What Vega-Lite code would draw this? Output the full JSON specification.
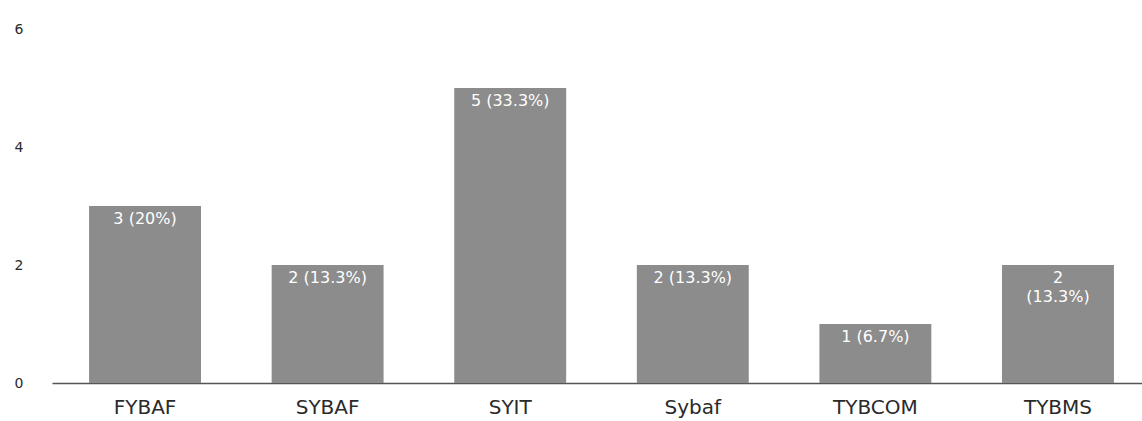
{
  "$schema": "https://vega.github.io/schema/vega-lite/v6.json",
  "width": 1090,
  "height": 354,
  "autosize": "none",
  "padding": {"left": 52, "top": 29, "right": 0, "bottom": 38},
  "background": "white",
  "config": {"view": {"stroke": null}, "font": "DejaVu Sans"},
  "data": {"values": [
    {"group": "FYBAF", "count": 3, "label": "3 (20%)"},
    {"group": "SYBAF", "count": 2, "label": "2 (13.3%)"},
    {"group": "SYIT", "count": 5, "label": "5 (33.3%)"},
    {"group": "Sybaf", "count": 2, "label": "2 (13.3%)"},
    {"group": "TYBCOM", "count": 1, "label": "1 (6.7%)"},
    {"group": "TYBMS", "count": 2, "label": "2\n(13.3%)"}
  ]},
  "encoding": {
    "x": {"field": "group", "type": "nominal", "sort": null,
      "scale": {"paddingInner": 0.387, "paddingOuter": 0.203, "range": [0, 1099]},
      "axis": {"title": null, "labelAngle": 0, "labelFontSize": 20, "labelColor": "#2a2a2a", "labelPadding": 14, "ticks": false, "domainColor": "#555", "domainWidth": 1.5, "labelFont": "DejaVu Sans"}},
    "y": {"field": "count", "type": "quantitative",
      "scale": {"domain": [0, 6]},
      "axis": {"title": null, "values": [0, 2, 4, 6], "grid": false, "domain": false, "ticks": false, "labelPadding": 38, "labelFontSize": 14, "labelColor": "#2a2a2a", "labelAlign": "left", "labelFont": "DejaVu Sans"}}
  },
  "layer": [
    {"mark": {"type": "bar", "color": "#8c8c8c"}},
    {"mark": {"type": "text", "color": "white", "baseline": "top", "dy": 5, "fontSize": 16, "font": "DejaVu Sans", "lineBreak": "\n", "lineHeight": 19}, "encoding": {"text": {"field": "label"}}}
  ]
}
